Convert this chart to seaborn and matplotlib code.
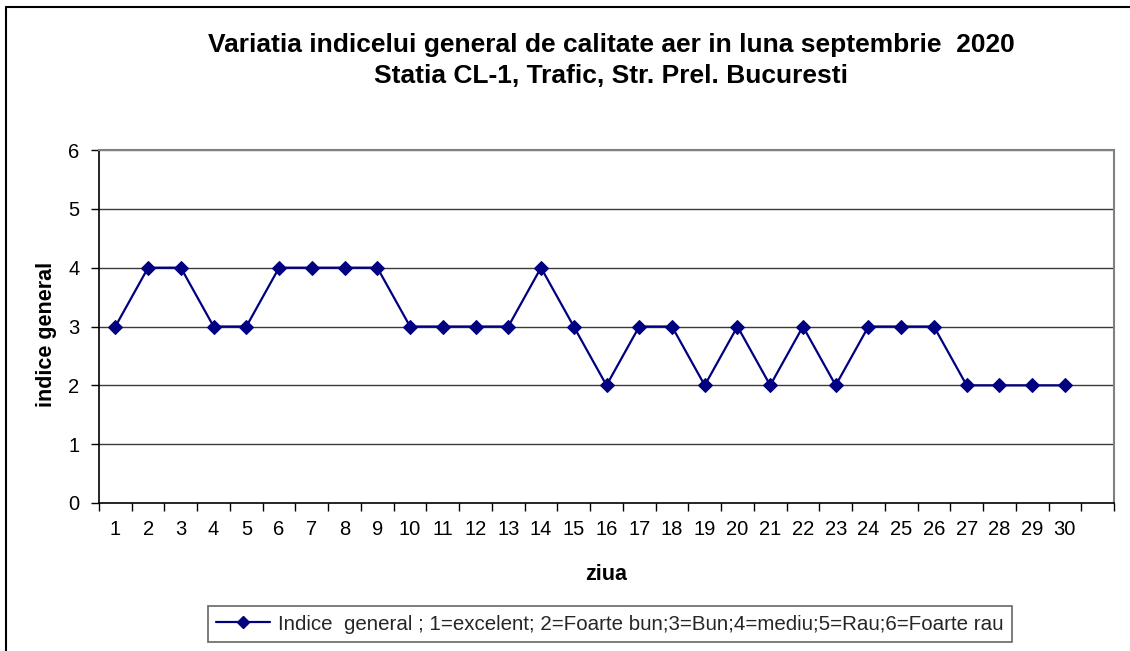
import numpy as np
import pandas as pd
import matplotlib
matplotlib.use('Agg')
import matplotlib.pyplot as plt
from matplotlib.lines import Line2D
import seaborn as sns

# data
days = list(range(1, 31))
indice = [3, 4, 4, 3, 3, 4, 4, 4, 4, 3,
          3, 3, 3, 4, 3, 2, 3, 3, 2, 3,
          2, 3, 2, 3, 3, 3, 2, 2, 2, 2]
y_ticks = [0, 1, 2, 3, 4, 5, 6]
title = 'Variatia indicelui general de calitate aer in luna septembrie  2020\nStatia CL-1, Trafic, Str. Prel. Bucuresti'
legend_label = 'Indice  general ; 1=excelent; 2=Foarte bun;3=Bun;4=mediu;5=Rau;6=Foarte rau'

df = pd.DataFrame({'ziua': days, 'indice': indice})

sns.set_style('white')
plt.rcParams['font.family'] = ['Liberation Sans', 'DejaVu Sans']

navy = '#000080'
fig = plt.figure(figsize=(11.3, 6.51), dpi=100)
ax = fig.add_axes([99 / 1130, 1 - 503 / 651, (1114 - 99) / 1130, (503 - 150) / 651])

sns.lineplot(data=df, x='ziua', y='indice', ax=ax, color=navy, marker='D',
             markersize=7, linewidth=1.6, markeredgecolor=navy, label=legend_label)

ax.set_xlim(0.5, 31.5)
ax.set_ylim(0, 6)
ax.set_yticks(y_ticks)
ax.set_xticks(days)
ax.set_xticks(np.arange(0.5, 32, 1), minor=True)
ax.tick_params(axis='x', which='major', length=0, labelsize=14.5, pad=12, colors='black')
ax.tick_params(axis='x', which='minor', length=6, width=1, direction='out', color='black', bottom=True)
ax.tick_params(axis='y', length=6, width=1, direction='out', left=True, labelsize=14.5, pad=8, colors='black')

for y in y_ticks[1:]:
    ax.axhline(y, color='#3a3a3a' if y < 6 else '#808080', linewidth=1, zorder=0)

for side in ['left', 'bottom']:
    ax.spines[side].set_color('black')
    ax.spines[side].set_linewidth(1.2)
for side in ['right', 'top']:
    ax.spines[side].set_color('#808080')
    ax.spines[side].set_linewidth(1.5)

ax.set_xlabel('ziua', fontsize=15.5, fontweight='bold', labelpad=18, color='black')
ax.set_ylabel('indice general', fontsize=15.5, fontweight='bold', labelpad=8, color='black')
ax.yaxis.label.set_y(0.5 - 8 / 353)

fig.text(611 / 1130, 1 - 33 / 651, title, ha='center', va='top', fontsize=19,
         fontweight='bold', linespacing=1.35, color='black')

ax.get_legend().remove()
handle = Line2D([], [], color=navy, marker='D', markersize=6, linewidth=1.6)
leg = fig.legend([handle], [legend_label], loc='center', bbox_to_anchor=(610 / 1130, 1 - 624 / 651),
                 fontsize=14.8, frameon=True, fancybox=False, edgecolor='#404040',
                 handlelength=2.6, handletextpad=0.4, borderpad=0.4)
leg.get_frame().set_linewidth(1.2)

# outer chart border (left and top visible)
fig.add_artist(Line2D([6 / 1130, 6 / 1130], [0, 1 - 7 / 651], transform=fig.transFigure, color='black', linewidth=1.5))
fig.add_artist(Line2D([6 / 1130, 1], [1 - 7 / 651, 1 - 7 / 651], transform=fig.transFigure, color='black', linewidth=1.5))

fig.savefig('out.png', dpi=100, facecolor='white')
